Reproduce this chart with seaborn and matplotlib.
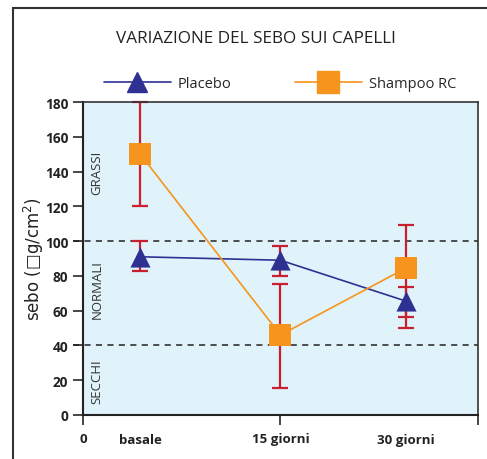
import pandas as pd
import matplotlib.pyplot as plt
import seaborn as sns
from matplotlib.lines import Line2D
from matplotlib.patches import Rectangle

# dati
tempi = ['basale', '15 giorni', '30 giorni']
pos_tempi = [0.29, 1.0, 1.635]
placebo = [91, 89, 65.5]
placebo_basso = [83, 80, 56.4]
placebo_alto = [100, 97, 73.6]
shampoo = [150, 46, 84.5]
shampoo_basso = [120, 15.5, 49.9]
shampoo_alto = [180, 75.5, 109.4]
zone = ['GRASSI', 'NORMALI', 'SECCHI']
zone_y = [140, 73, 19.5]
soglie = [40, 100]

BLU = '#2e3192'
ARANCIO = '#f7941d'
ROSSO = '#c8202f'

sns.set_style('white')
plt.rcParams['font.family'] = ['Open Sans', 'DejaVu Sans']

df = pd.DataFrame({
    'x': pos_tempi * 2,
    'sebo': placebo + shampoo,
    'gruppo': ['Placebo'] * 3 + ['Shampoo RC'] * 3,
})

fig = plt.figure(figsize=(4.87, 4.60), dpi=100)
ax = fig.add_axes([0.1704, 0.0957, 0.8111, 0.6803])
ax.set_facecolor('#e0f2fa')

# barre di errore (dietro ai marker)
for vals, lo, hi in [(placebo, placebo_basso, placebo_alto),
                     (shampoo, shampoo_basso, shampoo_alto)]:
    yerr = [[v - l for v, l in zip(vals, lo)], [h - v for v, h in zip(vals, hi)]]
    ax.errorbar(pos_tempi, vals, yerr=yerr, fmt='none', ecolor=ROSSO,
                elinewidth=1.6, capsize=6, capthick=1.6, zorder=2, clip_on=False)

sns.lineplot(data=df, x='x', y='sebo', hue='gruppo',
             palette={'Placebo': BLU, 'Shampoo RC': ARANCIO},
             linewidth=1.2, legend=False, ax=ax, zorder=3)
sns.scatterplot(data=df[df.gruppo == 'Placebo'], x='x', y='sebo', marker='^',
                s=210, color=BLU, linewidth=0, legend=False, ax=ax, zorder=4)
sns.scatterplot(data=df[df.gruppo == 'Shampoo RC'], x='x', y='sebo', marker='s',
                s=250, color=ARANCIO, linewidth=0, legend=False, ax=ax, zorder=4)

# linee di soglia tratteggiate
for s in soglie:
    ax.plot([-0.05, 2.0], [s, s], ls=(0, (4, 3.5)), color='#222222', lw=1.1,
            zorder=1.5, clip_on=False)

for testo, y in zip(zone, zone_y):
    ax.text(0.07, y, testo, rotation=90, ha='center', va='center',
            fontsize=9.5, color='#333333')

ax.set_xlim(0, 2)
ax.set_ylim(0, 180)
ax.set_yticks(range(0, 181, 20))
ax.set_xticks([0, 1, 2])
ax.set_xticklabels(['0', '15 giorni', ''])
ax.set_xticks([pos_tempi[0], pos_tempi[2]], minor=True)
ax.set_xticklabels([tempi[0], tempi[2]], minor=True)
ax.tick_params(axis='x', which='major', length=7, width=1.2, pad=5,
               labelsize=9.5, direction='out', bottom=True)
ax.tick_params(axis='x', which='minor', length=0, pad=13, labelsize=9.5)
ax.tick_params(axis='y', length=7, width=1.2, labelsize=9.8, direction='out',
               left=True)
for lab in ax.get_xticklabels(which='both') + ax.get_yticklabels():
    lab.set_fontweight('bold')
    lab.set_color('#222222')

ax.set_xlabel('')
ax.set_ylabel('sebo (□g/cm$^2$)', fontsize=12, color='#222222', labelpad=-1,
              family=['DejaVu Sans'])
for lato in ['left', 'bottom']:
    ax.spines[lato].set_linewidth(1.5)
    ax.spines[lato].set_color('#222222')
for lato in ['top', 'right']:
    ax.spines[lato].set_linewidth(1.2)
    ax.spines[lato].set_color('#333333')

fig.text(0.525, 0.915, 'VARIAZIONE DEL SEBO SUI CAPELLI', ha='center',
         va='center', fontsize=12.3, color='#222222')

maniglie = [
    Line2D([], [], color=BLU, lw=1.2, marker='^', markersize=14.5, mec=BLU,
           mfc=BLU),
    Line2D([], [], color=ARANCIO, lw=1.2, marker='s', markersize=15.5,
           mec=ARANCIO, mfc=ARANCIO),
]
fig.legend(maniglie, ['Placebo', 'Shampoo RC'], loc='center',
           bbox_to_anchor=(0.575, 0.817), ncol=2, frameon=False,
           handlelength=4.6, columnspacing=4.3, handletextpad=0.5,
           fontsize=10.5)

# cornice esterna
fig.patches.append(Rectangle((13 / 487, -0.1), 1.0, 1.1 - 9 / 460,
                             transform=fig.transFigure, fill=False,
                             edgecolor='#333333', lw=1.5))

fig.savefig('out.png', dpi=100)
